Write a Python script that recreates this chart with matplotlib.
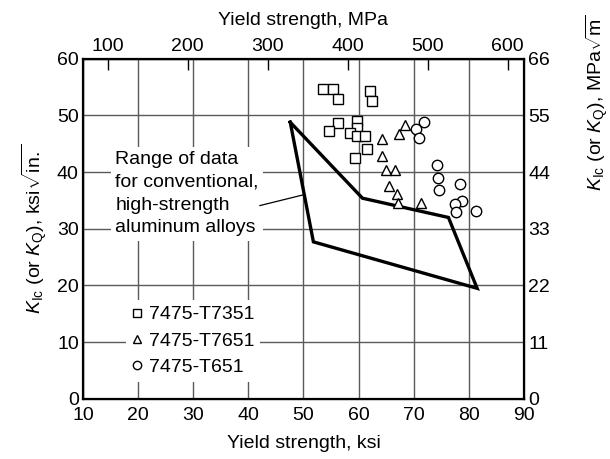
import numpy as np
import matplotlib
matplotlib.use("Agg")
import matplotlib.pyplot as plt
from matplotlib.lines import Line2D

plt.rcParams['font.family'] = ['Liberation Sans', 'DejaVu Sans']
plt.rcParams['mathtext.fontset'] = 'custom'
plt.rcParams['mathtext.rm'] = 'Liberation Sans'
plt.rcParams['mathtext.it'] = 'Liberation Sans:italic'
plt.rcParams['font.size'] = 14

# data (ksi, ksi*sqrt(in))
sq_x = [53.6, 55.3, 56.3, 62.0, 62.5, 56.2, 54.6, 59.7, 59.7, 58.5, 59.7, 61.2, 61.6, 59.3]
sq_y = [54.7, 54.7, 52.9, 54.3, 52.5, 48.6, 47.3, 49.1, 47.8, 46.9, 46.3, 46.3, 44.1, 42.5]

tri_x = [68.4, 67.4, 64.3, 64.3, 65.0, 66.6, 65.5, 67.0, 67.1, 71.3]
tri_y = [48.3, 46.8, 45.8, 42.9, 40.3, 40.3, 37.6, 36.1, 34.6, 34.5]

cir_x = [71.8, 70.5, 70.9, 74.2, 74.4, 74.6, 78.4, 78.8, 77.4, 77.6, 81.3]
cir_y = [48.8, 47.6, 46.0, 41.2, 38.9, 36.8, 37.9, 34.9, 34.4, 32.9, 33.1]

# range of data polygon
rng_x = [47.6, 60.7, 76.3, 81.5, 51.8, 47.6]
rng_y = [48.8, 35.4, 32.0, 19.5, 27.7, 48.8]

labels = ['7475-T7351', '7475-T7651', '7475-T651']
mpa_ticks = [100, 200, 300, 400, 500, 600]
mpam_ticks = [0, 11, 22, 33, 44, 55, 66]

KSI_TO_MPA = 6.895

fig = plt.figure(figsize=(6.1, 4.59), dpi=100)
ax = fig.add_axes([0.136, 0.131, 0.723, 0.741])

ax.set_xlim(10, 90)
ax.set_ylim(0, 60)
ax.set_xticks(np.arange(10, 91, 10))
ax.set_yticks(np.arange(0, 61, 10))
ax.grid(True, color='#5a5a5a', lw=1.0, zorder=0)
ax.set_axisbelow(True)
ax.tick_params(direction='in', length=0, pad=3)
ax.tick_params(axis='x', pad=6)
for s in ax.spines.values():
    s.set_linewidth(1.6)

mk = dict(ls='none', mfc='white', mec='black', mew=1.0, ms=7.5, zorder=4)
ax.plot(sq_x, sq_y, marker='s', **mk)
ax.plot(tri_x, tri_y, marker='^', **mk)
ax.plot(cir_x, cir_y, marker='o', **mk)

ax.plot(rng_x, rng_y, color='black', lw=2.4, solid_joinstyle='miter', zorder=3)

ax.text(15.9, 36.2, 'Range of data\nfor conventional,\nhigh-strength\naluminum alloys',
        ha='left', va='center', linespacing=1.45, zorder=2,
        bbox=dict(facecolor='white', edgecolor='none', pad=3))
ax.plot([42.1, 50.0], [34.1, 36.0], color='black', lw=0.9, zorder=3)

handles = [Line2D([], [], marker=m, ls='none', mfc='white', mec='black', mew=1.0, ms=6)
           for m in ['s', '^', 'o']]
leg = ax.legend(handles, labels, loc='center left', bbox_to_anchor=(0.075, 0.17),
                frameon=True, fancybox=False, edgecolor='none', framealpha=1,
                handlelength=0.6, handletextpad=0.3, labelspacing=0.45,
                borderpad=0.3, fontsize=14)
leg.set_zorder(2)

ax.set_xlabel('Yield strength, ksi', labelpad=8)
ax.set_ylabel(r'$K_{\mathrm{Ic}}$ (or $K_{\mathrm{Q}}$), ksi$\sqrt{\mathrm{in.}}$', labelpad=6)

top = ax.twiny()
top.set_xlim(10 * KSI_TO_MPA, 90 * KSI_TO_MPA)
top.set_xticks(mpa_ticks)
top.tick_params(direction='in', length=8, width=1, pad=3)
top.set_xlabel('Yield strength, MPa', labelpad=9)

right = ax.twinx()
right.set_ylim(0, 66)
right.set_yticks(mpam_ticks)
right.tick_params(direction='in', length=0, pad=3)
right.set_ylabel(r'$K_{\mathrm{Ic}}$ (or $K_{\mathrm{Q}}$), MPa$\sqrt{\mathrm{m}}$')
right.yaxis.set_label_coords(1.135, 0.87)

fig.savefig('out.png', dpi=100)
